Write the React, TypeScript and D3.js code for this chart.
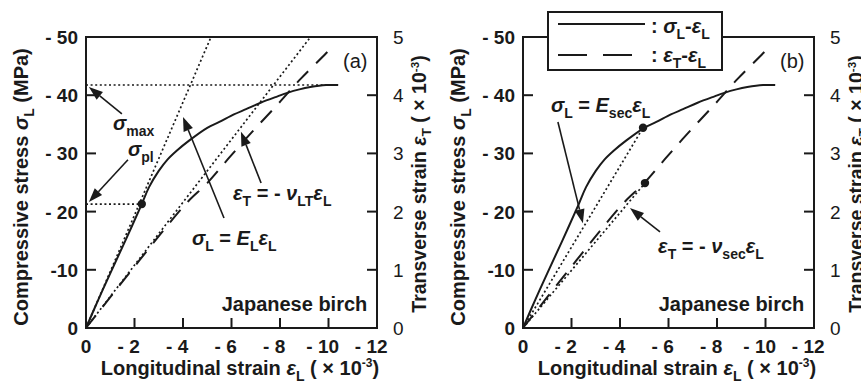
import React from "react";
import * as d3 from "d3";

// sigma_L - eps_L curve (eps in -1e-3, stress in -MPa)
const epsSigma = [0, 0.5, 1.0, 1.6, 2.3, 2.6, 3.0, 3.35, 3.75, 4.25, 5.0, 5.5, 6.1, 6.6, 7.2, 7.9, 8.3, 8.8, 9.25, 9.9, 10.4];
const sigmaL = [0, 4.8, 9.4, 14.8, 21.3, 24.2, 27.0, 28.9, 30.5, 32.2, 34.4, 35.4, 36.7, 37.6, 38.7, 39.8, 40.4, 41.0, 41.4, 41.75, 41.75];

// eps_T - eps_L curve (eps_T in 1e-3)
const epsTrans = [0, 1.0, 2.2, 3.2, 4.2, 5.0, 5.85, 6.85, 7.9, 8.85, 9.9, 10.2];
const epsT = [0, 0.53, 1.16, 1.68, 2.17, 2.49, 2.9, 3.37, 3.84, 4.28, 4.72, 4.86];

// characteristic values
const E_L = 9.7;
const nuLT = 0.54;
const sigmaMax = 41.75;
const epsPl = 2.3;
const sigmaPl = 21.3;
const secSigma = [4.95, 34.4];
const secEpsT = [5.03, 2.49];

const leftTicks = [0, 10, 20, 30, 40, 50];
const leftTickLabels = ["0", "-10", "- 20", "- 30", "- 40", "- 50"];
const bottomTicks = [0, 2, 4, 6, 8, 10, 12];
const bottomTickLabels = ["0", "- 2", "- 4", "- 6", "- 8", "- 10", "- 12"];
const rightTicks = [0, 1, 2, 3, 4, 5];
const rightTickLabels = ["0", "1", "2", "3", "4", "5"];

const FONT = "'Liberation Sans', Arial, Helvetica, sans-serif";
const INK = "#1a1a1a";
const PT = 37, PH = 291, PW = 291;

type Seg = { t: string; it?: boolean; sub?: boolean; sup?: boolean };

function rich(segs: Seg[], size: number) {
  let shift = 0;
  return segs.map((s, i) => {
    const target = s.sub ? size * 0.28 : s.sup ? -size * 0.38 : 0;
    const dy = target - shift;
    shift = target;
    return (
      <tspan key={i} dy={dy !== 0 ? dy : undefined}
        fontSize={s.sub ? size * 0.7 : s.sup ? size * 0.6 : undefined}
        fontStyle={s.it ? "italic" : undefined}>{s.t}</tspan>
    );
  });
}

function Arrow({ x1, y1, x2, y2 }: { x1: number; y1: number; x2: number; y2: number }) {
  const a = Math.atan2(y2 - y1, x2 - x1);
  const L = 14, W = 5;
  const bx = x2 - L * Math.cos(a), by = y2 - L * Math.sin(a);
  const p = [
    [x2, y2],
    [bx + W * Math.sin(a), by - W * Math.cos(a)],
    [bx - W * Math.sin(a), by + W * Math.cos(a)],
  ];
  return (
    <g>
      <line x1={x1} y1={y1} x2={bx} y2={by} stroke={INK} strokeWidth={1.6} />
      <polygon points={p.map((q) => q.join(",")).join(" ")} fill={INK} />
    </g>
  );
}

const sigmaLabel: Seg[] = [{ t: "σ", it: true }, { t: "L", sub: true }];
const elLabel: Seg[] = [{ t: "σ", it: true }, { t: "L", sub: true }, { t: " = " }, { t: "E", it: true }, { t: "L", sub: true }, { t: "ε", it: true }, { t: "L", sub: true }];
const nuLabel: Seg[] = [{ t: "ε", it: true }, { t: "T", sub: true }, { t: " = - " }, { t: "ν", it: true }, { t: "LT", sub: true }, { t: "ε", it: true }, { t: "L", sub: true }];
const esecLabel: Seg[] = [{ t: "σ", it: true }, { t: "L", sub: true }, { t: " = " }, { t: "E", it: true }, { t: "sec", sub: true }, { t: "ε", it: true }, { t: "L", sub: true }];
const nusecLabel: Seg[] = [{ t: "ε", it: true }, { t: "T", sub: true }, { t: " = - " }, { t: "ν", it: true }, { t: "sec", sub: true }, { t: "ε", it: true }, { t: "L", sub: true }];

function Panel({ ox, tag }: { ox: number; tag: string }) {
  const x = d3.scaleLinear().domain([0, 12]).range([ox, ox + PW]);
  const yL = d3.scaleLinear().domain([0, 50]).range([PT + PH, PT]);
  const yR = d3.scaleLinear().domain([0, 5]).range([PT + PH, PT]);

  const solid = d3.line<number>().curve(d3.curveCatmullRom.alpha(0.5))
    .x((_, i) => x(epsSigma[i])).y((d) => yL(d))(sigmaL) || "";
  const dashed = d3.line<number>().curve(d3.curveCatmullRom.alpha(0.5))
    .x((_, i) => x(epsTrans[i])).y((d) => yR(d))(epsT) || "";
  const dot = "2,2.6";
  const isA = tag === "(a)";
  const fs = 20;

  return (
    <g fontFamily={FONT} fill={INK} style={{ whiteSpace: "pre" }}>
      {/* reference lines */}
      {isA ? (
        <g stroke={INK} strokeWidth={1.7} strokeDasharray={dot} fill="none">
          <line x1={x(0)} y1={yL(sigmaMax)} x2={x(10.4)} y2={yL(sigmaMax)} />
          <line x1={x(0)} y1={yL(sigmaPl)} x2={x(epsPl)} y2={yL(sigmaPl)} />
          <line x1={x(0)} y1={yL(0)} x2={x(50 / E_L)} y2={yL(50)} />
          <line x1={x(0)} y1={yR(0)} x2={x(5 / nuLT)} y2={yR(5)} />
        </g>
      ) : (
        <g stroke={INK} strokeWidth={1.7} strokeDasharray={dot} fill="none">
          <line x1={x(0)} y1={yL(0)} x2={x(secSigma[0])} y2={yL(secSigma[1])} />
          <line x1={x(0)} y1={yR(0)} x2={x(secEpsT[0])} y2={yR(secEpsT[1])} />
        </g>
      )}

      {/* curves */}
      <path d={solid} fill="none" stroke={INK} strokeWidth={2} />
      <path d={dashed} fill="none" stroke={INK} strokeWidth={2} strokeDasharray="16,11" />

      {isA ? (
        <circle cx={x(epsPl)} cy={yL(sigmaPl)} r={4.2} />
      ) : (
        <g>
          <circle cx={x(secSigma[0])} cy={yL(secSigma[1])} r={4.2} />
          <circle cx={x(secEpsT[0])} cy={yR(secEpsT[1])} r={4.2} />
        </g>
      )}

      {/* frame and ticks */}
      <rect x={ox} y={PT} width={PW} height={PH} fill="none" stroke={INK} strokeWidth={2} />
      {leftTicks.map((t) => (
        <line key={"l" + t} x1={ox} x2={ox + 10} y1={yL(t)} y2={yL(t)} stroke={INK} strokeWidth={2} />
      ))}
      {rightTicks.map((t) => (
        <line key={"r" + t} x1={ox + PW - 10} x2={ox + PW} y1={yR(t)} y2={yR(t)} stroke={INK} strokeWidth={2} />
      ))}
      {bottomTicks.map((t) => (
        <line key={"b" + t} x1={x(t)} x2={x(t)} y1={PT + PH} y2={PT + PH - 10} stroke={INK} strokeWidth={2} />
      ))}

      <g fontSize={19} fontWeight="bold">
        {leftTicks.map((t, i) => (
          <text key={"lt" + t} x={ox - 8} y={yL(t) + 7} textAnchor="end">{leftTickLabels[i]}</text>
        ))}
        {bottomTicks.map((t, i) => {
          const digits = bottomTickLabels[i].replace(/[^0-9]/g, "").length;
          return (
            <text key={"bt" + t} x={x(t) + digits * 5.3} y={PT + PH + 25} textAnchor="end">{bottomTickLabels[i]}</text>
          );
        })}
      </g>
      <g fontSize={19}>
        {rightTicks.map((t, i) => (
          <text key={"rt" + t} x={ox + PW + 16} y={yR(t) + 7}>{rightTickLabels[i]}</text>
        ))}
      </g>

      {/* axis titles */}
      <g fontSize={fs} fontWeight="bold">
        <text transform={`translate(${ox - 58},${PT + 150}) rotate(-90)`} textAnchor="middle">
          {rich([{ t: "Compressive stress " }, ...sigmaLabel, { t: " (MPa)" }], fs)}
        </text>
        <text transform={`translate(${ox + PW + 49},${PT + 147}) rotate(-90)`} textAnchor="middle" fontSize={19.5}>
          {rich([{ t: "Transverse strain " }, { t: "ε", it: true }, { t: "T", sub: true }, { t: " ( × 10" }, { t: "-3", sup: true }, { t: ")" }], 19.5)}
        </text>
        <text x={ox + 154} y={PT + PH + 47} textAnchor="middle">
          {rich([{ t: "Longitudinal strain " }, { t: "ε", it: true }, { t: "L", sub: true }, { t: " ( × 10" }, { t: "-3", sup: true }, { t: ")" }], fs)}
        </text>
        <text x={x(11.6)} y={yL(2.9)} textAnchor="end">Japanese birch</text>
      </g>
      <text x={x(10.6)} y={yL(44.7)} fontSize={fs}>{tag}</text>

      {/* annotations */}
      <g fontSize={fs} fontWeight="bold">
        {isA ? (
          <g>
            <text x={x(1.11)} y={yL(34.0)}>{rich([{ t: "σ", it: true }, { t: "max", sub: true }], fs)}</text>
            <text x={x(1.73)} y={yL(29.55)}>{rich([{ t: "σ", it: true }, { t: "pl", sub: true }], fs)}</text>
            <text x={x(4.37)} y={yL(14.26)}>{rich(elLabel, fs)}</text>
            <text x={x(6.06)} y={yL(22.0)}>{rich(nuLabel, fs)}</text>
            <Arrow x1={x(1.48)} y1={yL(36.8)} x2={x(0.12)} y2={yL(41.4)} />
            <Arrow x1={x(1.73)} y1={yL(28.9)} x2={x(0.12)} y2={yL(21.65)} />
            <Arrow x1={x(5.69)} y1={yL(18.9)} x2={x(4.0)} y2={yL(36.25)} />
            <Arrow x1={x(7.22)} y1={yL(24.9)} x2={x(6.39)} y2={yL(33.7)} />
          </g>
        ) : (
          <g>
            <text x={x(1.15)} y={yL(37.1)}>{rich(esecLabel, fs)}</text>
            <text x={x(5.57)} y={yL(12.9)}>{rich(nusecLabel, fs)}</text>
            <Arrow x1={x(1.44)} y1={yL(35.4)} x2={x(2.47)} y2={yL(18.0)} />
            <Arrow x1={x(5.65)} y1={yL(16.5)} x2={x(4.41)} y2={yL(20.6)} />
          </g>
        )}
      </g>
    </g>
  );
}

function Legend() {
  const fs = 20;
  return (
    <g fontFamily={FONT} fill={INK} fontSize={fs} fontWeight="bold" style={{ whiteSpace: "pre" }}>
      <rect x={548} y={12} width={174} height={58} fill="#fff" stroke={INK} strokeWidth={2} />
      <line x1={558} x2={645} y1={24} y2={24} stroke={INK} strokeWidth={2} />
      <line x1={558} x2={645} y1={55} y2={55} stroke={INK} strokeWidth={2} strokeDasharray="29,16" />
      <text x={651} y={33}>{rich([{ t: ": " }, { t: "σ", it: true }, { t: "L", sub: true }, { t: "-" }, { t: "ε", it: true }, { t: "L", sub: true }], fs)}</text>
      <text x={651} y={62}>{rich([{ t: ": " }, { t: "ε", it: true }, { t: "T", sub: true }, { t: "-" }, { t: "ε", it: true }, { t: "L", sub: true }], fs)}</text>
    </g>
  );
}

export default function App() {
  return (
    <svg width={861} height={384} style={{ position: "absolute", left: 0, top: 0, background: "#fff" }}>
      <rect width={861} height={384} fill="#fff" />
      <Panel ox={86} tag="(a)" />
      <Panel ox={523} tag="(b)" />
      <Legend />
    </svg>
  );
}
